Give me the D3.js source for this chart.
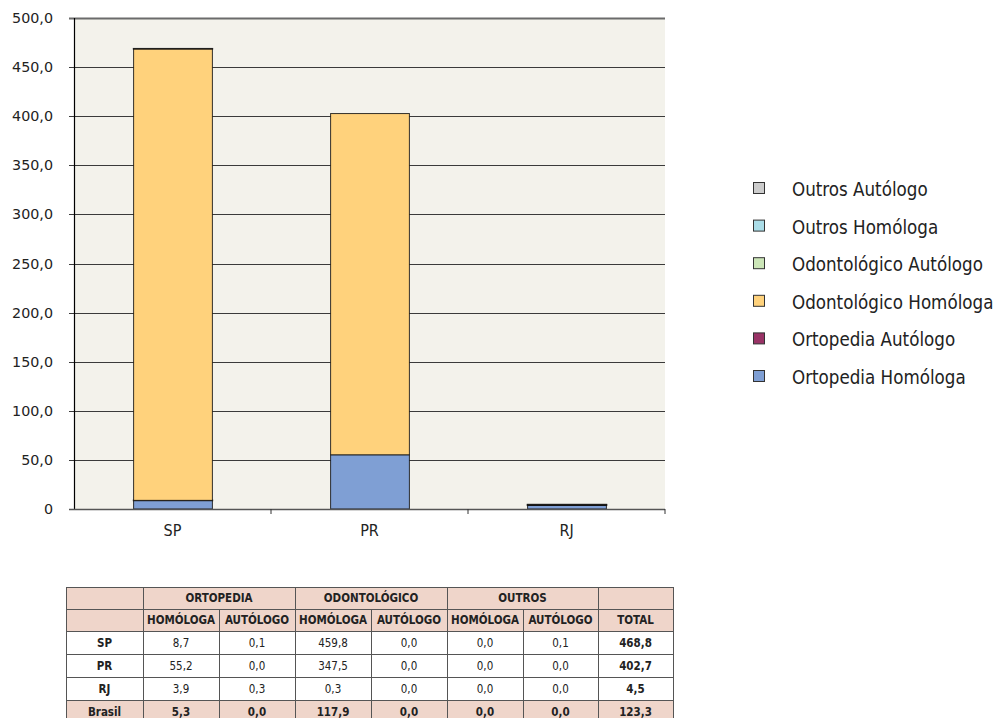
<!DOCTYPE html>
<html><head><meta charset="utf-8">
<script src="https://cdn.jsdelivr.net/npm/d3@7"></script>
<style>
html,body{margin:0;padding:0;background:#fff;}
svg{display:block;}
</style></head>
<body>
<svg id="chart" width="1003" height="718"></svg>
<script>
const categories = ["SP", "PR", "RJ"];
const seriesNames = ["Ortopedia Homóloga", "Ortopedia Autólogo", "Odontológico Homóloga", "Odontológico Autólogo", "Outros Homóloga", "Outros Autólogo"];
const seriesColors = ["#7f9fd4", "#993366", "#ffd27c", "#cce6b8", "#abdde8", "#cccccc"];
const ortopediaHomologa = [8.7, 55.2, 3.9];
const ortopediaAutologo = [0.1, 0.0, 0.3];
const odontologicoHomologa = [459.8, 347.5, 0.3];
const odontologicoAutologo = [0.0, 0.0, 0.0];
const outrosHomologa = [0.0, 0.0, 0.0];
const outrosAutologo = [0.1, 0.0, 0.0];
const totals = [468.8, 402.7, 4.5];
const brasilRow = [5.3, 0.0, 117.9, 0.0, 0.0, 0.0, 123.3];
const yTicks = [0, 50, 100, 150, 200, 250, 300, 350, 400, 450, 500];
const groupHeaders = ["ORTOPEDIA", "ODONTOLÓGICO", "OUTROS"];
const subHeaders = ["HOMÓLOGA", "AUTÓLOGO", "HOMÓLOGA", "AUTÓLOGO", "HOMÓLOGA", "AUTÓLOGO", "TOTAL"];

const seriesValues = [ortopediaHomologa, ortopediaAutologo, odontologicoHomologa, odontologicoAutologo, outrosHomologa, outrosAutologo];
const fmt = v => d3.format(".1f")(v).replace(".", ",");

const svg = d3.select("#chart");
const plot = {left: 74, right: 665, top: 18, bottom: 509};

const x = d3.scaleBand().domain(categories).range([plot.left, plot.right]).paddingInner(0.6).paddingOuter(0.3);
const xb = d3.scaleBand().domain(categories).range([plot.left, plot.right]);
const y = d3.scaleLinear().domain([0, 500]).range([plot.bottom, plot.top]);

// background
svg.append("rect").attr("x", plot.left).attr("y", plot.top)
  .attr("width", plot.right - plot.left).attr("height", plot.bottom - plot.top)
  .attr("fill", "#f3f2eb");

// gridlines
svg.append("g").selectAll("line").data(yTicks.filter(d => d > 0)).join("line")
  .attr("x1", plot.left - 5).attr("x2", plot.right)
  .attr("y1", d => Math.round(y(d)) + 0.5).attr("y2", d => Math.round(y(d)) + 0.5)
  .attr("stroke", d => d === 500 ? "#6b6b6b" : "#3a3a3a").attr("stroke-width", d => d === 500 ? 2 : 1);

// y axis labels
svg.append("g").selectAll("text").data(yTicks).join("text")
  .attr("x", 53).attr("y", d => y(d) + 5)
  .attr("text-anchor", "end")
  .attr("font-family", "DejaVu Sans, Verdana, sans-serif").attr("font-size", 14.3).attr("fill", "#222")
  .text(d => d === 0 ? "0" : fmt(d));

// stacked bars
const table = categories.map((c, i) => {
  const o = {cat: c};
  seriesNames.forEach((s, j) => o[s] = seriesValues[j][i]);
  return o;
});
const stack = d3.stack().keys(seriesNames)(table);
const gBars = svg.append("g");
stack.forEach((layer, j) => {
  gBars.append("g").selectAll("rect").data(layer.filter(d => d[1] - d[0] > 0)).join("rect")
    .attr("x", d => x(d.data.cat) + 0.5)
    .attr("y", d => y(d[1]))
    .attr("width", x.bandwidth())
    .attr("height", d => Math.max(0, y(d[0]) - y(d[1])))
    .attr("fill", seriesColors[j])
    .attr("stroke", "#111").attr("stroke-width", d => (y(d[0]) - y(d[1]) < 1) ? 1.6 : 1)
    .attr("stroke-opacity", 0.85);
});

// axes lines
svg.append("line").attr("x1", plot.left + 0.5).attr("x2", plot.left + 0.5).attr("y1", plot.top).attr("y2", plot.bottom + 1)
  .attr("stroke", "#000").attr("stroke-width", 1.2);
svg.append("line").attr("x1", plot.left - 5).attr("x2", plot.right).attr("y1", plot.bottom + 0.5).attr("y2", plot.bottom + 0.5)
  .attr("stroke", "#555").attr("stroke-width", 1.5);
// x ticks at category boundaries
svg.append("g").selectAll("line").data(categories).join("line")
  .attr("x1", d => xb(d) + xb.bandwidth()).attr("x2", d => xb(d) + xb.bandwidth())
  .attr("y1", plot.bottom).attr("y2", plot.bottom + 5)
  .attr("stroke", "#333");
// x labels
svg.append("g").selectAll("text").data(categories).join("text")
  .attr("x", d => x(d) + x.bandwidth() / 2).attr("y", 536)
  .attr("text-anchor", "middle")
  .attr("font-family", "Liberation Sans Narrow, DejaVu Sans Condensed, sans-serif").attr("font-size", 16).attr("fill", "#222")
  .text(d => d);

// legend
const legendOrder = seriesNames.slice().reverse();
const legendColors = seriesColors.slice().reverse();
const lg = svg.append("g");
legendOrder.forEach((s, i) => {
  const cy = 188 + i * 37.6;
  lg.append("rect").attr("x", 753.5).attr("y", cy - 5.5).attr("width", 11).attr("height", 11)
    .attr("fill", legendColors[i]).attr("stroke", "#333");
  lg.append("text").attr("x", 792).attr("y", cy + 8)
    .attr("font-family", "DejaVu Sans Condensed, Liberation Sans Narrow, sans-serif").attr("font-size", 18.6).attr("fill", "#222")
    .text(s);
});

// table
const colX = [66, 143, 219, 295, 371, 447, 523, 598, 673];
const rowY = [587, 609, 631, 654, 677, 700, 723];
const pink = "#efd5ca";
const border = "#555";
const tf = "Liberation Sans Narrow, DejaVu Sans Condensed, sans-serif";
const tg = svg.append("g");
[0, 1, 5].forEach(r => tg.append("rect").attr("x", colX[0]).attr("y", rowY[r]).attr("width", colX[8] - colX[0]).attr("height", rowY[r + 1] - rowY[r]).attr("fill", pink));
rowY.forEach(yy => tg.append("line").attr("x1", colX[0]).attr("x2", colX[8]).attr("y1", yy + 0.5).attr("y2", yy + 0.5).attr("stroke", border));
colX.forEach((xx, i) => {
  const inGroupInner = (i === 2 || i === 4 || i === 6);
  tg.append("line").attr("x1", xx + 0.5).attr("x2", xx + 0.5)
    .attr("y1", inGroupInner ? rowY[1] : rowY[0]).attr("y2", rowY[6])
    .attr("stroke", border);
});
groupHeaders.forEach((h, i) => {
  tg.append("text").attr("x", (colX[1 + 2 * i] + colX[3 + 2 * i]) / 2).attr("y", (rowY[0] + rowY[1]) / 2 + 4)
    .attr("text-anchor", "middle").attr("font-family", tf).attr("font-weight", "bold").attr("font-size", 11.5).attr("fill", "#222")
    .text(h);
});
subHeaders.forEach((h, i) => {
  tg.append("text").attr("x", (colX[1 + i] + colX[2 + i]) / 2).attr("y", (rowY[1] + rowY[2]) / 2 + 4)
    .attr("text-anchor", "middle").attr("font-family", tf).attr("font-weight", "bold").attr("font-size", 11.5).attr("fill", "#222")
    .text(h);
});
const rows = categories.map((c, i) => ({label: c, vals: seriesValues.map(s => s[i]).concat([totals[i]]), bold: false}));
rows.push({label: "Brasil", vals: brasilRow, bold: true});
rows.forEach((r, ri) => {
  const yy = (rowY[2 + ri] + rowY[3 + ri]) / 2 + 4;
  tg.append("text").attr("x", (colX[0] + colX[1]) / 2).attr("y", yy)
    .attr("text-anchor", "middle").attr("font-family", tf).attr("font-weight", "bold").attr("font-size", 11.5).attr("fill", "#222")
    .text(r.label);
  r.vals.forEach((v, vi) => {
    tg.append("text").attr("x", (colX[1 + vi] + colX[2 + vi]) / 2).attr("y", yy)
      .attr("text-anchor", "middle").attr("font-family", tf)
      .attr("font-weight", (r.bold || vi === 6) ? "bold" : "normal").attr("font-size", 11.5).attr("fill", "#222")
      .text(fmt(v));
  });
});
</script>
</body></html>
